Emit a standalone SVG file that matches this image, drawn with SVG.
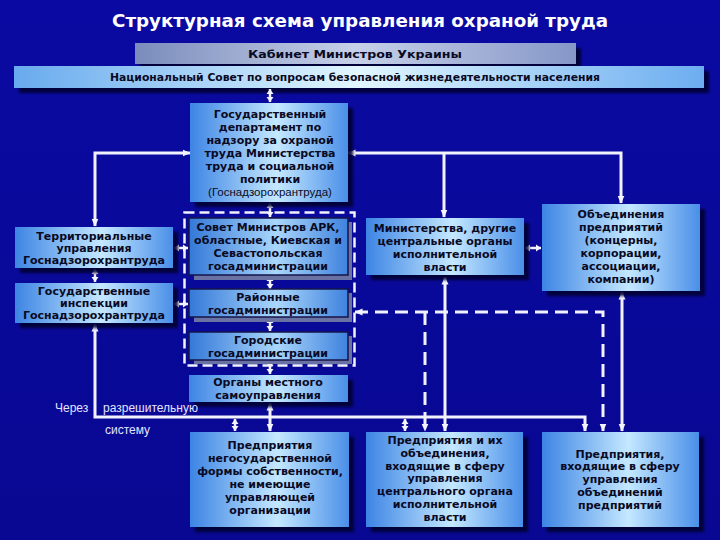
<svg xmlns="http://www.w3.org/2000/svg" width="720" height="540" viewBox="0 0 720 540">
<defs>
  <linearGradient id="bg" x1="0" y1="0" x2="0" y2="1">
    <stop offset="0" stop-color="#0a0aa2"/>
    <stop offset="1" stop-color="#080892"/>
  </linearGradient>
  <linearGradient id="gBox" x1="0" y1="0" x2="1" y2="0">
    <stop offset="0" stop-color="#3d84e4"/>
    <stop offset="0.55" stop-color="#c4e8ff"/>
    <stop offset="1" stop-color="#4a8fe8"/>
  </linearGradient>
  <linearGradient id="gIn" x1="0" y1="0" x2="1" y2="0">
    <stop offset="0" stop-color="#3478d8"/>
    <stop offset="0.55" stop-color="#a9d6fb"/>
    <stop offset="1" stop-color="#3f82de"/>
  </linearGradient>
  <linearGradient id="gKab" x1="0" y1="0" x2="1" y2="0">
    <stop offset="0" stop-color="#7a8cbc"/>
    <stop offset="0.5" stop-color="#c6d0e8"/>
    <stop offset="1" stop-color="#8697c8"/>
  </linearGradient>
  <linearGradient id="gNat" x1="0" y1="0" x2="1" y2="0">
    <stop offset="0" stop-color="#68aaee"/>
    <stop offset="0.5" stop-color="#e2f7ff"/>
    <stop offset="1" stop-color="#6cadf0"/>
  </linearGradient>
  <filter id="sh" x="-10%" y="-10%" width="130%" height="140%">
    <feDropShadow dx="5" dy="5" stdDeviation="1.5" flood-color="#000030" flood-opacity="0.9"/>
  </filter>
  <marker id="ah" viewBox="0 0 8 8" refX="7.5" refY="4" markerWidth="8" markerHeight="8" markerUnits="userSpaceOnUse" orient="auto-start-reverse">
    <path d="M0,0.5 L8,4 L0,7.5 z" fill="#f4f4ff"/>
  </marker>
  <marker id="as" viewBox="0 0 5 8" refX="5" refY="4" markerWidth="5" markerHeight="8" markerUnits="userSpaceOnUse" orient="auto-start-reverse">
    <path d="M0,0.5 L5,4 L0,7.5 z" fill="#f4f4ff"/>
  </marker>
  <style>
    .box{fill:url(#gBox);filter:url(#sh)}
    .inbox{fill:url(#gIn);stroke:#14144a;stroke-width:1.5}
    .insh{fill:#6a72a4}
    .t{font-family:"DejaVu Sans","Verdana",sans-serif;font-weight:bold;font-size:11px;fill:#0a0a24;text-anchor:middle}
    .r{font-family:"Liberation Sans","Arial",sans-serif;font-size:11.5px;fill:#0a0a24;text-anchor:middle}
    .w{font-family:"Liberation Sans","Arial",sans-serif;font-size:12px;fill:#e4e4ff}
    .ln{fill:none;stroke:#f2f2ff;stroke-width:3}
    .sl{fill:none;stroke:#f2f2ff;stroke-width:2.5}
    .dl{fill:none;stroke:#f2f2ff;stroke-width:3;stroke-dasharray:13 7}
    .dd{marker-start:url(#ah);marker-end:url(#ah)}
    .ds{marker-start:url(#as);marker-end:url(#as)}
    .de{marker-end:url(#ah)}
  </style>
</defs>
<rect width="720" height="540" fill="url(#bg)"/>

<text x="360" y="27" font-family="DejaVu Sans, sans-serif" font-weight="bold" font-size="18" fill="#ffffff" text-anchor="middle" textLength="496" lengthAdjust="spacingAndGlyphs">Структурная схема управления охраной труда</text>

<g id="kabinet">
  <rect x="135" y="43" width="441" height="21" fill="url(#gKab)" filter="url(#sh)"/>
  <text class="t" x="355" y="58" font-size="12" textLength="214" lengthAdjust="spacingAndGlyphs">Кабинет Министров Украины</text>
</g>
<g id="natsovet">
  <rect x="14" y="66" width="690" height="22" fill="url(#gNat)" filter="url(#sh)"/>
  <text class="t" x="355" y="81" textLength="490" lengthAdjust="spacingAndGlyphs">Национальный Совет по вопросам безопасной жизнедеятельности населения</text>
</g>

<g id="connectors">
  <line class="sl ds" x1="270" y1="89" x2="270" y2="102"/>
  <path class="ln dd" d="M190,153 H95 V226"/>
  <path class="ln dd" d="M348,153 H621 V203"/>
  <path class="ln de" d="M444,153 V217"/>
  <line class="sl ds" x1="270" y1="203" x2="270" y2="217"/>
  <line class="sl ds" x1="270" y1="276" x2="270" y2="289"/>
  <line class="sl ds" x1="270" y1="318" x2="270" y2="331"/>
  <line class="sl ds" x1="270" y1="361" x2="270" y2="374"/>
  <line class="ln dd" x1="270" y1="403" x2="270" y2="431"/>
  <line class="sl ds" x1="174" y1="248" x2="188" y2="248"/>
  <line class="sl ds" x1="174" y1="304" x2="188" y2="304"/>
  <line class="sl ds" x1="95" y1="269" x2="95" y2="282"/>
  <path class="ln dd" d="M95,324 V417 H585 V431"/>
  <line class="sl ds" x1="235" y1="419" x2="235" y2="431"/>
  <line class="sl ds" x1="405" y1="419" x2="405" y2="431"/>
  <line class="ln dd" x1="445" y1="277" x2="445" y2="431"/>
  <line class="sl ds" x1="525" y1="248" x2="541" y2="248"/>
  <line class="ln dd" x1="622" y1="292" x2="622" y2="431"/>
  <path class="dl dd" d="M355,312 H603 V431"/>
  <path class="dl de" d="M425,312 V431"/>
  <rect x="184.5" y="212.5" width="170" height="153" fill="none" stroke="#f2f2ff" stroke-width="2.5" stroke-dasharray="10 5"/>
</g>

<g id="gosnadzor">
  <rect class="box" x="190" y="103" width="158" height="99"/>
  <text class="t" x="270" y="118">Государственный</text>
  <text class="t" x="270" y="131">департамент по</text>
  <text class="t" x="270" y="144">надзору за охраной</text>
  <text class="t" x="270" y="157">труда Министерства</text>
  <text class="t" x="270" y="170">труда и социальной</text>
  <text class="t" x="270" y="183">политики</text>
  <text class="r" x="270" y="196">(Госнадзорохрантруда)</text>
</g>

<g id="territorial">
  <rect class="box" x="15" y="227" width="158" height="41"/>
  <text class="t" x="94" y="240">Территориальные</text>
  <text class="t" x="94" y="252">управления</text>
  <text class="t" x="94" y="264">Госнадзорохрантруда</text>
</g>

<g id="inspections">
  <rect class="box" x="15" y="283" width="158" height="40"/>
  <text class="t" x="94" y="295">Государственные</text>
  <text class="t" x="94" y="307">инспекции</text>
  <text class="t" x="94" y="319">Госнадзорохрантруда</text>
</g>

<g id="ark">
  <rect class="insh" x="194" y="222" width="158" height="58"/>
  <rect class="inbox" x="189" y="218" width="159" height="57"/>
  <text class="t" x="268" y="231">Совет Министров АРК,</text>
  <text class="t" x="268" y="244">областные, Киевская и</text>
  <text class="t" x="268" y="257">Севастопольская</text>
  <text class="t" x="268" y="270">госадминистрации</text>
</g>

<g id="raion">
  <rect class="insh" x="194" y="293" width="158" height="29"/>
  <rect class="inbox" x="189" y="289" width="159" height="28"/>
  <text class="t" x="268" y="301">Районные</text>
  <text class="t" x="268" y="314">госадминистрации</text>
</g>

<g id="city">
  <rect class="insh" x="194" y="336" width="158" height="28"/>
  <rect class="inbox" x="189" y="332" width="159" height="28"/>
  <text class="t" x="268" y="344">Городские</text>
  <text class="t" x="268" y="357">госадминистрации</text>
</g>

<g id="organs">
  <rect class="box" x="189" y="375" width="159" height="27"/>
  <text class="t" x="268" y="386">Органы местного</text>
  <text class="t" x="268" y="399">самоуправления</text>
</g>

<g id="ministries">
  <rect class="box" x="366" y="218" width="158" height="57"/>
  <text class="t" x="445" y="232">Министерства, другие</text>
  <text class="t" x="445" y="245">центральные органы</text>
  <text class="t" x="445" y="258">исполнительной</text>
  <text class="t" x="445" y="271">власти</text>
</g>

<g id="associations">
  <rect class="box" x="542" y="204" width="158" height="87"/>
  <text class="t" x="621" y="218">Объединения</text>
  <text class="t" x="621" y="231">предприятий</text>
  <text class="t" x="621" y="244">(концерны,</text>
  <text class="t" x="621" y="257">корпорации,</text>
  <text class="t" x="621" y="270">ассоциации,</text>
  <text class="t" x="621" y="283">компании)</text>
</g>

<g id="ent1">
  <rect class="box" x="190" y="432" width="159" height="95"/>
  <text class="t" x="270" y="449">Предприятия</text>
  <text class="t" x="270" y="462">негосударственной</text>
  <text class="t" x="270" y="475">формы собственности,</text>
  <text class="t" x="270" y="488">не имеющие</text>
  <text class="t" x="270" y="501">управляющей</text>
  <text class="t" x="270" y="514">организации</text>
</g>

<g id="ent2">
  <rect class="box" x="366" y="432" width="157" height="95"/>
  <text class="t" x="445" y="444">Предприятия и их</text>
  <text class="t" x="445" y="457">объединения,</text>
  <text class="t" x="445" y="470">входящие в сферу</text>
  <text class="t" x="445" y="482">управления</text>
  <text class="t" x="445" y="495">центрального органа</text>
  <text class="t" x="445" y="508">исполнительной</text>
  <text class="t" x="445" y="521">власти</text>
</g>

<g id="ent3">
  <rect class="box" x="542" y="432" width="157" height="95"/>
  <text class="t" x="620" y="458">Предприятия,</text>
  <text class="t" x="620" y="470">входящие в сферу</text>
  <text class="t" x="620" y="483">управления</text>
  <text class="t" x="620" y="496">объединений</text>
  <text class="t" x="620" y="509">предприятий</text>
</g>

<g id="labels">
  <text class="w" x="55" y="412">Через</text>
  <text class="w" x="103" y="412">разрешительную</text>
  <text class="w" x="105" y="434">систему</text>
</g>
</svg>
